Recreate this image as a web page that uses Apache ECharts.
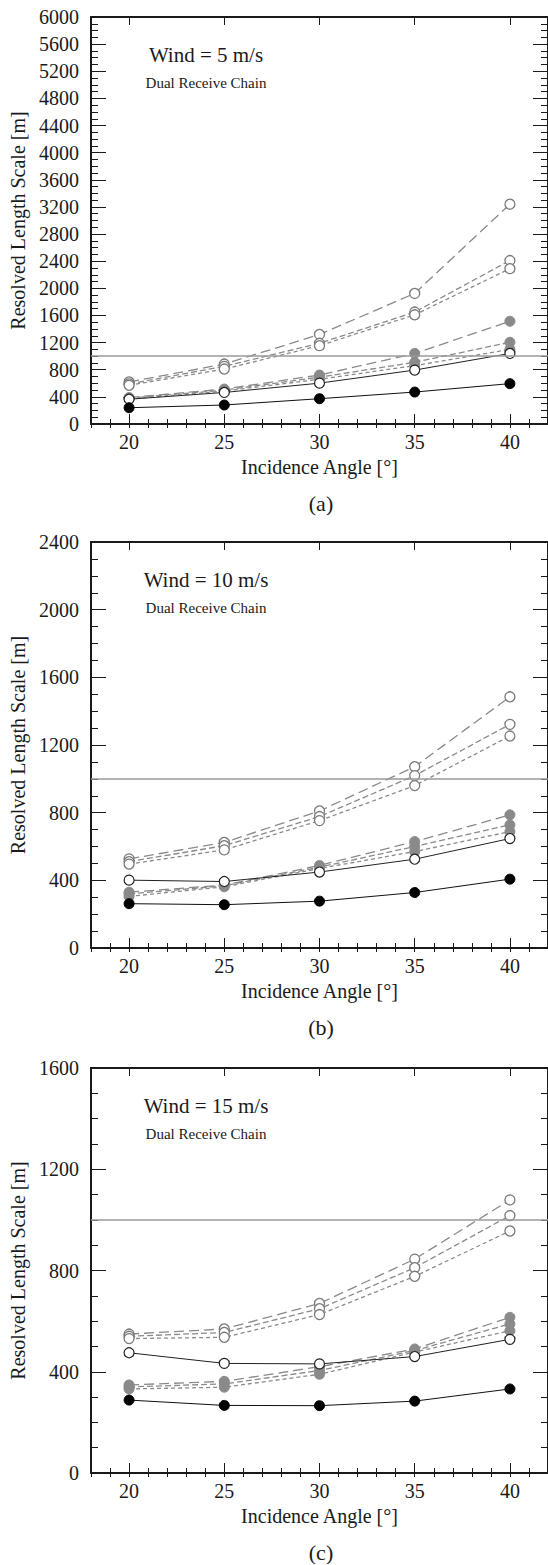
<!DOCTYPE html>
<html>
<head>
<meta charset="utf-8">
<script src="https://cdn.jsdelivr.net/npm/echarts@6/dist/echarts.min.js"></script>
<style>
  html, body { margin: 0; padding: 0; background: #fff; }
  #chart { width: 548px; height: 1565px; }
</style>
</head>
<body>
<div id="chart"></div>
<script>
// Incidence angles (x) and y-axis extents of the three wind cases
const angles = [20, 25, 30, 35, 40];
const yMaxes = [6000, 2400, 1600];
const yInterval = 400;
const threshold = 1000;

const windLabels = ['Wind = 5 m/s', 'Wind = 10 m/s', 'Wind = 15 m/s'];
const chainLabel = 'Dual Receive Chain';
const panelLabels = ['(a)', '(b)', '(c)'];
const xTitle = 'Incidence Angle [°]';
const yTitle = 'Resolved Length Scale [m]';

// Wind = 5 m/s
const w5Black      = [240, 280, 373, 471, 595];
const w5White      = [365, 465, 602, 795, 1040];
const w5GrayLong   = [390, 515, 722, 1040, 1515];
const w5GrayMid    = [380, 500, 690, 910, 1205];
const w5GrayShort  = [370, 485, 660, 860, 1100];
const w5OpenLong   = [620, 884, 1320, 1925, 3240];
const w5OpenMid    = [590, 850, 1190, 1650, 2410];
const w5OpenShort  = [570, 810, 1155, 1610, 2290];

// Wind = 10 m/s
const w10Black     = [262, 256, 277, 328, 407];
const w10White     = [401, 393, 449, 525, 647];
const w10GrayLong  = [330, 372, 488, 629, 787];
const w10GrayMid   = [320, 368, 478, 600, 728];
const w10GrayShort = [305, 362, 470, 570, 688];
const w10OpenLong  = [527, 624, 810, 1072, 1485];
const w10OpenMid   = [510, 605, 777, 1019, 1322];
const w10OpenShort = [496, 580, 753, 960, 1253];

// Wind = 15 m/s
const w15Black     = [288, 267, 266, 284, 332];
const w15White     = [475, 433, 431, 460, 528];
const w15GrayLong  = [348, 362, 420, 490, 615];
const w15GrayMid   = [340, 352, 405, 484, 589];
const w15GrayShort = [332, 339, 390, 478, 562];
const w15OpenLong  = [549, 569, 670, 845, 1079];
const w15OpenMid   = [540, 555, 649, 811, 1017];
const w15OpenShort = [531, 536, 626, 777, 956];

const panels = [
  { black: w5Black, white: w5White, gray: [w5GrayLong, w5GrayMid, w5GrayShort], open: [w5OpenLong, w5OpenMid, w5OpenShort] },
  { black: w10Black, white: w10White, gray: [w10GrayLong, w10GrayMid, w10GrayShort], open: [w10OpenLong, w10OpenMid, w10OpenShort] },
  { black: w15Black, white: w15White, gray: [w15GrayLong, w15GrayMid, w15GrayShort], open: [w15OpenLong, w15OpenMid, w15OpenShort] }
];

const FONT = '"Liberation Serif", "Times New Roman", serif';
const INK = '#1a1a1a';
const GRAY = '#8a8a8a';
const dashes = [[10, 5], [6, 3], [4, 3]];
const plain = v => String(v);

// layout of the three plot frames
const gridLeft = 91, gridWidth = 460;
const gridTops = [17, 542, 1068];
const gridHeights = [407, 406, 405];

const grids = [], xAxes = [], yAxes = [], series = [], graphics = [];

panels.forEach((p, i) => {
  grids.push({ left: gridLeft, top: gridTops[i], width: gridWidth, height: gridHeights[i], containLabel: false });

  const frame = { show: true, onZero: false, lineStyle: { color: INK, width: 2 } };
  const tickStyle = { color: INK, width: 1 };
  const xBase = { type: 'value', gridIndex: i, min: 18, max: 42, splitLine: { show: false } };

  // bottom axis: long ticks + labels at the angles
  xAxes.push(Object.assign({}, xBase, {
    position: 'bottom',
    axisLine: frame,
    axisTick: { show: true, inside: true, length: 10, customValues: angles, lineStyle: tickStyle },
    axisLabel: { show: true, customValues: angles, formatter: plain, fontSize: 20, fontFamily: FONT, color: INK, margin: 8 },
    name: xTitle, nameLocation: 'middle', nameGap: 33,
    nameTextStyle: { fontSize: 20, fontFamily: FONT, color: INK }
  }));
  // bottom axis: short ticks every degree
  xAxes.push(Object.assign({}, xBase, {
    position: 'bottom', interval: 1,
    axisLine: { show: false },
    axisTick: { show: true, inside: true, length: 5, lineStyle: tickStyle },
    axisLabel: { show: false }
  }));
  // top frame: long ticks
  xAxes.push(Object.assign({}, xBase, {
    position: 'top',
    axisLine: frame,
    axisTick: { show: true, inside: true, length: 8, customValues: angles, lineStyle: tickStyle },
    axisLabel: { show: false }
  }));
  // top frame: short ticks
  xAxes.push(Object.assign({}, xBase, {
    position: 'top', interval: 1,
    axisLine: { show: false },
    axisTick: { show: true, inside: true, length: 4, lineStyle: tickStyle },
    axisLabel: { show: false }
  }));

  const yBase = {
    type: 'value', gridIndex: i, min: 0, max: yMaxes[i], interval: yInterval,
    splitLine: { show: false }, axisLine: frame,
    axisTick: { show: true, inside: true, length: 15, lineStyle: tickStyle },
    minorTick: { show: true, splitNumber: 4, length: 7, lineStyle: tickStyle }
  };
  yAxes.push(Object.assign({}, yBase, {
    position: 'left',
    axisLabel: { show: true, formatter: plain, fontSize: 20, fontFamily: FONT, color: INK, margin: 12 },
    name: yTitle, nameLocation: 'middle', nameGap: 60,
    nameTextStyle: { fontSize: 20, fontFamily: FONT, color: INK }
  }));
  yAxes.push(Object.assign({}, yBase, { position: 'right', axisLabel: { show: false } }));

  const xi = 4 * i, yi = 2 * i;
  const pts = vals => angles.map((a, k) => [a, vals[k]]);
  const base = { type: 'line', xAxisIndex: xi, yAxisIndex: yi, symbol: 'circle', symbolSize: 10, animation: false, silent: true };

  // open circles on gray dashed lines
  p.open.forEach((vals, k) => series.push(Object.assign({}, base, {
    data: pts(vals), z: 2,
    lineStyle: { color: GRAY, width: 1.3, type: dashes[k] },
    itemStyle: { color: '#fff', borderColor: '#7a7a7a', borderWidth: 1.3 }
  })));
  // gray filled circles on gray dashed lines
  p.gray.forEach((vals, k) => series.push(Object.assign({}, base, {
    data: pts(vals), z: 3,
    lineStyle: { color: GRAY, width: 1.3, type: dashes[k] },
    itemStyle: { color: GRAY, borderColor: GRAY, borderWidth: 1 }
  })));
  // open circles on solid black line
  series.push(Object.assign({}, base, {
    data: pts(p.white), z: 4,
    lineStyle: { color: '#222', width: 1 },
    itemStyle: { color: '#fff', borderColor: '#222', borderWidth: 1.2 }
  }));
  // filled black circles on solid black line, with the 1000 m reference line
  series.push(Object.assign({}, base, {
    data: pts(p.black), z: 5,
    lineStyle: { color: '#111', width: 1 },
    itemStyle: { color: '#000', borderColor: '#000', borderWidth: 1 },
    markLine: {
      silent: true, symbol: ['none', 'none'], label: { show: false },
      lineStyle: { color: '#9a9a9a', width: 1.5, type: 'solid' },
      data: [{ yAxis: threshold }]
    }
  }));

  const top = gridTops[i], bottom = gridTops[i] + gridHeights[i];
  graphics.push({
    type: 'text', x: 206, y: top + 38,
    style: { text: windLabels[i], fontSize: 21, fontFamily: FONT, fill: INK, align: 'center', verticalAlign: 'middle' }
  });
  graphics.push({
    type: 'text', x: 206, y: top + 66,
    style: { text: chainLabel, fontSize: 15, fontFamily: FONT, fill: INK, align: 'center', verticalAlign: 'middle' }
  });
  graphics.push({
    type: 'text', x: gridLeft + gridWidth / 2, y: bottom + 79,
    style: { text: panelLabels[i], fontSize: 22, fontFamily: FONT, fill: INK, align: 'center', verticalAlign: 'middle' }
  });
});

const chart = echarts.init(document.getElementById('chart'), null, { renderer: 'svg' });
chart.setOption({
  animation: false,
  backgroundColor: '#fff',
  grid: grids,
  xAxis: xAxes,
  yAxis: yAxes,
  series: series,
  graphic: graphics
});
</script>
</body>
</html>
